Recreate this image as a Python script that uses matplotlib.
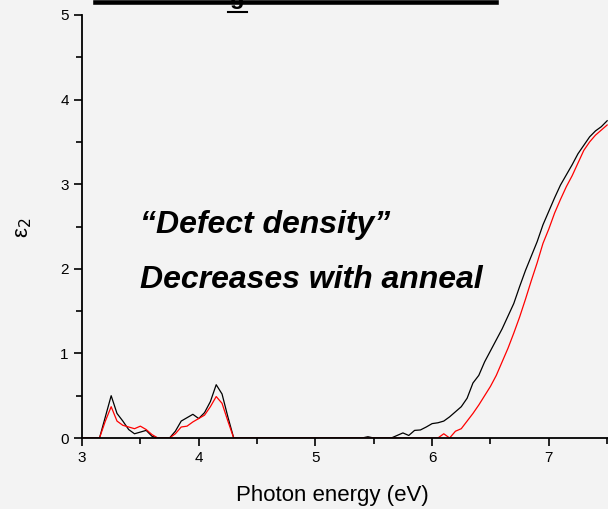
import numpy as np
import matplotlib.pyplot as plt
from matplotlib.ticker import MultipleLocator
from matplotlib.lines import Line2D

plt.rcParams['font.family'] = ['Liberation Sans', 'DejaVu Sans']

# photon energy grid (eV), 0.05 eV steps
energy = np.round(np.arange(3.0, 7.5001, 0.05), 2)

# as-deposited (black) and annealed (red) eps2
black_pts = {
    3.15: 0.0, 3.2: 0.25, 3.25: 0.50, 3.3: 0.29, 3.35: 0.20, 3.4: 0.10, 3.45: 0.05,
    3.5: 0.07, 3.55: 0.09, 3.6: 0.02, 3.65: 0.0, 3.75: 0.0, 3.8: 0.08, 3.85: 0.20,
    3.9: 0.24, 3.95: 0.28, 4.0: 0.23, 4.05: 0.30, 4.1: 0.43, 4.15: 0.63, 4.2: 0.52,
    4.25: 0.25, 4.3: 0.0, 5.4: 0.0, 5.45: 0.015, 5.5: 0.0, 5.65: 0.0, 5.7: 0.03,
    5.75: 0.06, 5.8: 0.03, 5.85: 0.09, 5.9: 0.095, 5.95: 0.13, 6.0: 0.17, 6.05: 0.18,
    6.1: 0.20, 6.15: 0.25, 6.2: 0.31, 6.25: 0.37, 6.3: 0.47, 6.35: 0.65, 6.4: 0.74,
    6.45: 0.90, 6.5: 1.03, 6.55: 1.16, 6.6: 1.29, 6.65: 1.44, 6.7: 1.59, 6.75: 1.79,
    6.8: 1.98, 6.85: 2.15, 6.9: 2.32, 6.95: 2.52, 7.0: 2.68, 7.05: 2.84, 7.1: 2.99,
    7.15: 3.11, 7.2: 3.23, 7.25: 3.36, 7.3: 3.46, 7.35: 3.56, 7.4: 3.63, 7.45: 3.68,
    7.5: 3.75,
}
red_pts = {
    3.15: 0.0, 3.2: 0.20, 3.25: 0.37, 3.3: 0.20, 3.35: 0.15, 3.4: 0.13, 3.45: 0.11,
    3.5: 0.14, 3.55: 0.10, 3.6: 0.04, 3.65: 0.0, 3.75: 0.0, 3.8: 0.05, 3.85: 0.13,
    3.9: 0.14, 3.95: 0.19, 4.0: 0.23, 4.05: 0.27, 4.1: 0.37, 4.15: 0.49, 4.2: 0.41,
    4.25: 0.20, 4.3: 0.0, 6.05: 0.0, 6.1: 0.05, 6.15: 0.0, 6.2: 0.08, 6.25: 0.11,
    6.3: 0.20, 6.35: 0.29, 6.4: 0.39, 6.45: 0.50, 6.5: 0.61, 6.55: 0.74, 6.6: 0.90,
    6.65: 1.06, 6.7: 1.24, 6.75: 1.43, 6.8: 1.64, 6.85: 1.86, 6.9: 2.07, 6.95: 2.30,
    7.0: 2.47, 7.05: 2.66, 7.1: 2.82, 7.15: 2.97, 7.2: 3.10, 7.25: 3.25, 7.3: 3.40,
    7.35: 3.50, 7.4: 3.58, 7.45: 3.64, 7.5: 3.70,
}

black = np.array([black_pts.get(e, 0.0) for e in energy])
red = np.array([red_pts.get(e, 0.0) for e in energy])

W, H = 608, 509
fig = plt.figure(figsize=(W/100, H/100), dpi=100)
fig.patch.set_facecolor('#f3f3f3')
ax = fig.add_axes([82/W, 1 - 438/H, (W - 82)/W, (438 - 15)/H])
ax.set_facecolor('none')

ax.plot(energy, black, color='black', lw=0.9)
ax.plot(energy, red, color='red', lw=0.9)

ax.set_xlim(3, 3 + (W - 82)/116.7)
ax.set_ylim(0, 5)
ax.spines['top'].set_visible(False)
ax.spines['right'].set_visible(False)
for s in ('left', 'bottom'):
    ax.spines[s].set_linewidth(1.3)
ax.xaxis.set_major_locator(MultipleLocator(1))
ax.xaxis.set_minor_locator(MultipleLocator(0.5))
ax.yaxis.set_major_locator(MultipleLocator(1))
ax.yaxis.set_minor_locator(MultipleLocator(0.5))
ax.tick_params(which='major', direction='out', length=6, width=1.2, labelsize=11)
ax.tick_params(which='minor', direction='out', length=4, width=1.2)
ax.set_xlabel('Photon energy (eV)', fontsize=16)
ax.xaxis.set_label_coords((332 - 82)/(W - 82), -(496 - 438)/(438 - 15), transform=ax.transAxes)
ax.xaxis.label.set_va('center')
ax.set_ylabel('ε$_2$', fontsize=16)
ax.yaxis.set_label_coords(-(82 - 24)/(W - 82), (438 - 228)/(438 - 15), transform=ax.transAxes)
ax.yaxis.label.set_va('center')

ax.text(140/W, 1 - 225/H, '\u201cDefect density\u201d', transform=fig.transFigure,
        fontsize=23, fontweight='bold', fontstyle='italic', va='center', ha='left')
ax.text(140/W, 1 - 280/H, 'Decreases with anneal', transform=fig.transFigure,
        fontsize=23, fontweight='bold', fontstyle='italic', va='center', ha='left')

# cut-off slide heading at the top edge
fig.add_artist(Line2D([95/W, 496/W], [1 - 2/H, 1 - 2/H], color='black',
                      lw=3.3, transform=fig.transFigure))
fig.text(237/W, 1 - 4/H, 'g', fontsize=17, fontweight='bold', ha='center',
         va='baseline')
fig.add_artist(Line2D([228/W, 247/W], [1 - 12/H, 1 - 12/H], color='black',
                      lw=1.5, transform=fig.transFigure))

fig.savefig('out.png', dpi=100, facecolor=fig.get_facecolor())
